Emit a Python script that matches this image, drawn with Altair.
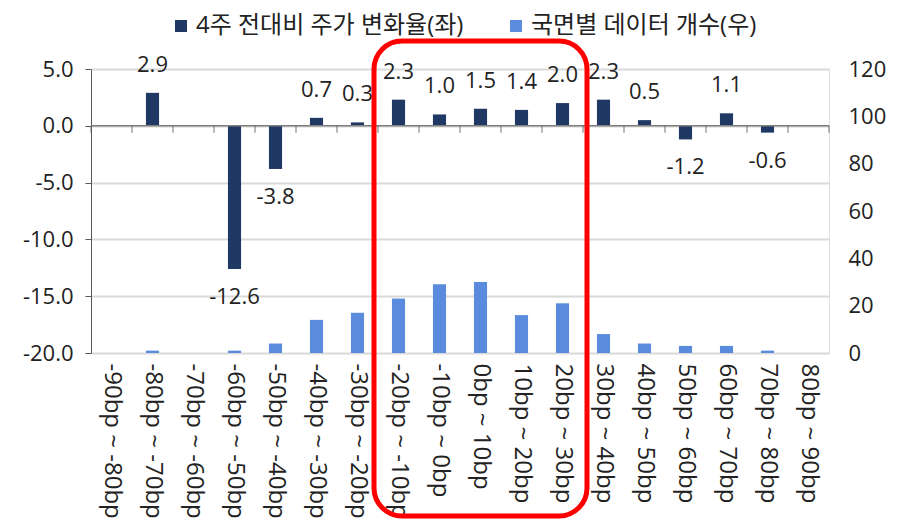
import altair as alt
import pandas as pd

categories = [
    "-90bp ~ -80bp", "-80bp ~ -70bp", "-70bp ~ -60bp", "-60bp ~ -50bp",
    "-50bp ~ -40bp", "-40bp ~ -30bp", "-30bp ~ -20bp", "-20bp ~ -10bp",
    "-10bp ~ 0bp", "0bp ~ 10bp", "10bp ~ 20bp", "20bp ~ 30bp",
    "30bp ~ 40bp", "40bp ~ 50bp", "50bp ~ 60bp", "60bp ~ 70bp",
    "70bp ~ 80bp", "80bp ~ 90bp",
]
price_change = [None, 2.9, None, -12.6, -3.8, 0.7, 0.3, 2.3, 1.0, 1.5, 1.4,
                2.0, 2.3, 0.5, -1.2, 1.1, -0.6, None]
data_count = [0, 1, 0, 1, 4, 14, 17, 23, 29, 30, 16, 21, 8, 4, 3, 3, 1, 0]
series_names = ["4주 전대비 주가 변화율(좌)", "국면별 데이터 개수(우)"]
series_colors = ["#203864", "#5B8BDC"]
left_ticks = [-20, -15, -10, -5, 0, 5]
right_ticks = [0, 20, 40, 60, 80, 100, 120]
highlight = ["-20bp ~ -10bp", "20bp ~ 30bp"]

FONT = "Open Sans, Noto Sans CJK KR"
FW = 400
NUM_SIZE = 22
W, H = 738, 284

df = pd.DataFrame({"cat": categories, "chg": price_change, "cnt": data_count})
df["series"] = series_names[1]
df_chg = df.dropna(subset=["chg"]).copy()
df_chg["series"] = series_names[0]
df_chg["label"] = df_chg["chg"].map(lambda v: f"{v:.1f}")
df_pos = df_chg[df_chg["chg"] >= 0]
df_neg = df_chg[df_chg["chg"] < 0]
df_last = pd.DataFrame({"cat": [categories[-1]]})
df_box = pd.DataFrame({"cat": [highlight[0]], "end": [highlight[1]]})

xscale = alt.Scale(domain=categories, paddingInner=0, paddingOuter=0)
yleft = alt.Scale(domain=[left_ticks[0], left_ticks[-1]], nice=False, zero=False)
yright = alt.Scale(domain=[right_ticks[0], right_ticks[-1]], nice=False)
cscale = alt.Scale(domain=series_names, range=series_colors)

x_axis = alt.Axis(
    labelAngle=90, labelFontSize=24, labelFont=FONT, labelFontWeight=FW,
    labelColor="#222222", domain=False, ticks=False, labelPadding=10,
    title=None, grid=False, labelLimit=400,
)

legend = alt.Legend(
    title=None, orient="none", legendX=78, legendY=-55,
    direction="horizontal", symbolType="square",
    symbolSize=144, symbolStrokeWidth=0, labelFontSize=24, labelFont=FONT,
    labelFontWeight=FW, labelColor="#222222", columnPadding=40, labelOffset=3,
    labelLimit=500,
)

light_bars = alt.Chart(df).mark_bar(width={"band": 0.32}).encode(
    x=alt.X("cat:N", sort=categories, scale=xscale, axis=x_axis),
    y=alt.Y("cnt:Q", scale=yright, axis=alt.Axis(
        orient="right", values=right_ticks, grid=False, domain=False, ticks=False,
        labelFontSize=NUM_SIZE, labelFont=FONT, labelFontWeight=FW,
        labelColor="#222222", labelPadding=19, title=None)),
    color=alt.Color("series:N", scale=cscale, legend=legend),
)

dark_bars = alt.Chart(df_chg).mark_bar(width={"band": 0.32}).encode(
    x=alt.X("cat:N", sort=categories, scale=xscale),
    y=alt.Y("chg:Q", scale=yleft, axis=alt.Axis(
        orient="left", values=left_ticks,
        labelExpr="replace(format(datum.value, '.1f'), '\u2212', '-')",
        grid=True, gridColor="#D9D9D9", gridWidth=2,
        domain=True, domainColor="#595959", ticks=True, tickColor="#595959",
        tickSize=6, labelFontSize=NUM_SIZE, labelFont=FONT, labelFontWeight=FW,
        labelColor="#222222", labelPadding=12, title=None)),
    color=alt.Color("series:N", scale=cscale, legend=legend),
)

pos_text = alt.Chart(df_pos).mark_text(
    baseline="middle", dy=-28, fontSize=NUM_SIZE, font=FONT, fontWeight=FW,
    color="#222222"
).encode(
    x=alt.X("cat:N", sort=categories, scale=xscale),
    y=alt.Y("chg:Q", scale=yleft),
    text="label:N",
)
neg_text = alt.Chart(df_neg).mark_text(
    baseline="middle", dy=28, fontSize=NUM_SIZE, font=FONT, fontWeight=FW,
    color="#222222"
).encode(
    x=alt.X("cat:N", sort=categories, scale=xscale),
    y=alt.Y("chg:Q", scale=yleft),
    text="label:N",
)

zero_rule = alt.Chart(df_last).mark_rule(color="#7F7F7F", strokeWidth=1.5).encode(
    y=alt.Y("zero:Q", scale=yleft),
).transform_calculate(zero="0")
ticks_a = alt.Chart(df).mark_tick(
    orient="vertical", size=7, thickness=1.2, yOffset=3.5, color="#595959"
).encode(
    x=alt.X("cat:N", sort=categories, scale=xscale, bandPosition=0),
    y=alt.Y("zero:Q", scale=yleft),
).transform_calculate(zero="0")
ticks_b = alt.Chart(df_last).mark_tick(
    orient="vertical", size=7, thickness=1.2, yOffset=3.5, color="#595959"
).encode(
    x=alt.X("cat:N", sort=categories, scale=xscale, bandPosition=1),
    y=alt.Y("zero:Q", scale=yleft),
).transform_calculate(zero="0")

left = alt.layer(dark_bars, zero_rule, ticks_a, ticks_b, pos_text, neg_text)

box = alt.Chart(df_box).mark_rect(
    filled=False, stroke="#FF0000", strokeWidth=5, cornerRadius=28,
    xOffset=-4, x2Offset=4, clip=False,
).encode(
    x=alt.X("cat:N", sort=categories, scale=xscale, bandPosition=0),
    x2=alt.X2("end:N", bandPosition=1),
    y=alt.value(-28),
    y2=alt.value(447),
)

chart = alt.layer(light_bars, left, box).resolve_scale(
    y="independent"
).properties(
    width=W, height=H,
    padding={"left": 14, "top": 6, "right": 5, "bottom": 5},
).configure_view(stroke=None).configure(font=FONT)

chart.save("out.html", embed_options={"renderer": "svg", "actions": False})
